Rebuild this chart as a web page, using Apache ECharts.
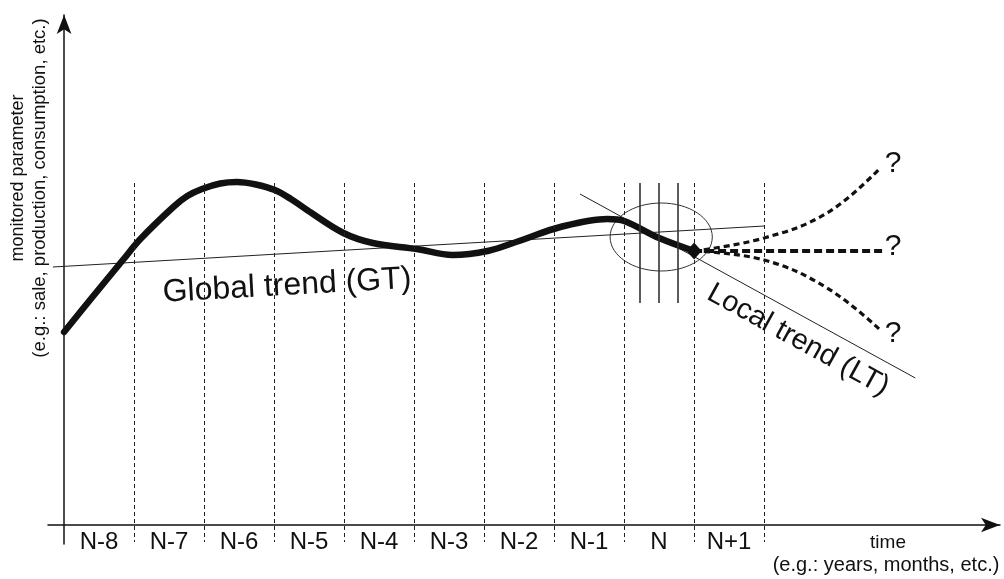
<!DOCTYPE html>
<html>
<head>
<meta charset="utf-8">
<script src="https://cdn.jsdelivr.net/npm/echarts@6/dist/echarts.min.js"></script>
<style>
html,body{margin:0;padding:0;background:#fff;}
#chart{width:1004px;height:579px;}
</style>
</head>
<body>
<div id="chart"></div>
<script>
// ---- data ----
const categories = ['N-8','N-7','N-6','N-5','N-4','N-3','N-2','N-1','N','N+1'];
const boundaries = [1,2,3,4,5,6,7,8,9,10];
const dashTop = 34.2;
const dashBottom = -1.7;
const mainCurve = [[0,19.3],[0.37,22.5],[0.84,26.5],[1.09,28.6],[1.56,31.8],[1.76,32.9],[1.97,33.6],[2.23,34.15],[2.47,34.3],[2.74,34.05],[3.01,33.5],[3.24,32.6],[3.47,31.5],[3.99,29.2],[4.41,28.2],[5.04,27.6],[5.55,27.0],[6.05,27.4],[6.5,28.4],[7.09,29.8],[7.76,30.6],[8.0,30.4],[8.5,28.7],[9.0,27.4]];
const globalTrend = [[-0.16,25.8],[10.0,29.9]];
const localTrend = [[7.37,33.1],[12.16,14.7]];
const forecastUp = [[9.0,27.4],[10.0,28.7],[10.9,31.2],[11.63,35.5]];
const forecastFlat = [[9.0,27.4],[11.69,27.4]];
const forecastDown = [[9.0,27.4],[10.0,26.5],[10.9,23.7],[11.66,19.5]];
const nVerticals = [8.23,8.5,8.77];
const nVertTop = 34.2, nVertBottom = 22.2;
const ellipseCenter = [8.53,28.8];
const ellipseRadius = [0.73,3.4];

const FONT = '"Liberation Sans", Arial, sans-serif';
const INK = '#111';

const chart = echarts.init(document.getElementById('chart'), null, {renderer:'canvas'});
const option = {
  animation: false,
  backgroundColor: '#fff',
  grid: [
    {left:48, right:4, top:15, bottom:35},
    {left:64, width:700, top:15, bottom:54}
  ],
  xAxis: [
    {type:'value', gridIndex:0, min:-0.23, max:13.37,
     axisLine:{show:true, onZero:true, symbol:['none','arrow'], symbolSize:[11,19], lineStyle:{color:INK, width:1.5}},
     axisTick:{show:false}, axisLabel:{show:false}, splitLine:{show:false}},
    {type:'category', gridIndex:1, data:categories, boundaryGap:true,
     axisLine:{show:false}, axisTick:{show:false}, splitLine:{show:false},
     axisLabel:{show:true, interval:0, margin:5, fontSize:24, fontFamily:FONT, color:INK}}
  ],
  yAxis: [
    {type:'value', gridIndex:0, min:-1.9, max:51,
     axisLine:{show:true, onZero:true, symbol:['none','arrow'], symbolSize:[11,19], lineStyle:{color:INK, width:1.5}},
     axisTick:{show:false}, axisLabel:{show:false}, splitLine:{show:false}},
    {type:'value', gridIndex:1, show:false, min:0, max:1}
  ],
  series: [
    {type:'line', name:'GT', data:globalTrend, xAxisIndex:0, yAxisIndex:0, symbol:'none',
     lineStyle:{color:'#222', width:1},
     markLine:{silent:true, symbol:['none','none'], label:{show:false}, animation:false,
       lineStyle:{type:[4,3], color:'#222', width:1},
       emphasis:{disabled:true},
       data: boundaries.map(b => [{coord:[b, dashTop]},{coord:[b, dashBottom]}])}},
    {type:'line', name:'LT', data:localTrend, symbol:'none',
     lineStyle:{color:'#222', width:1},
     markLine:{silent:true, symbol:['none','none'], label:{show:false}, animation:false,
       lineStyle:{type:'solid', color:'#333', width:1.6},
       emphasis:{disabled:true},
       data: nVerticals.map(v => [{coord:[v, nVertTop]},{coord:[v, nVertBottom]}])}},
    {type:'custom', name:'ellipse', data:[ellipseCenter], silent:true,
     renderItem: function(params, api){
       const c = api.coord([api.value(0), api.value(1)]);
       const s = api.size([ellipseRadius[0], ellipseRadius[1]]);
       return {type:'ellipse', shape:{cx:c[0], cy:c[1], rx:s[0], ry:s[1]},
               style:{fill:'none', stroke:'#333', lineWidth:1}};
     }},
    {type:'line', name:'up', data:forecastUp, symbol:'none', smooth:0.4,
     lineStyle:{color:INK, width:3.2, type:[6,4]}},
    {type:'line', name:'flat', data:forecastFlat, symbol:'none',
     lineStyle:{color:INK, width:4, type:[8,4]}},
    {type:'line', name:'down', data:forecastDown, symbol:'none', smooth:0.4,
     lineStyle:{color:INK, width:3.2, type:[6,4]}},
    {type:'line', name:'main', data:mainCurve, smooth:0.35,
     symbol:'none', lineStyle:{color:INK, width:6.5, cap:'round', join:'round'},
     markPoint:{silent:true, symbol:'diamond', symbolSize:[15,17], itemStyle:{color:INK},
       label:{show:false}, animation:false,
       data:[{coord: mainCurve[mainCurve.length-1]}]}}
  ],
  graphic: [
    {type:'text', x:18, y:178, rotation:Math.PI/2,
     style:{text:'monitored parameter', fontSize:18, fontFamily:FONT, fill:INK, align:'center', verticalAlign:'middle'}},
    {type:'text', x:40, y:188, rotation:Math.PI/2,
     style:{text:'(e.g.: sale, production, consumption, etc.)', fontSize:18.5, fontFamily:FONT, fill:INK, align:'center', verticalAlign:'middle'}},
    {type:'text', x:888, y:543,
     style:{text:'time', fontSize:19, fontFamily:FONT, fill:INK, align:'center', verticalAlign:'middle'}},
    {type:'text', x:886, y:565,
     style:{text:'(e.g.: years, months, etc.)', fontSize:20, fontFamily:FONT, fill:INK, align:'center', verticalAlign:'middle'}},
    {type:'text', x:287, y:286, rotation:0.056,
     style:{text:'Global trend (GT)', fontSize:32, fontFamily:FONT, fill:INK, align:'center', verticalAlign:'middle'}},
    {type:'text', x:798, y:340, rotation:-0.503,
     style:{text:'Local trend (LT)', fontSize:29, fontFamily:FONT, fill:INK, align:'center', verticalAlign:'middle'}},
    {type:'text', x:893, y:164,
     style:{text:'?', fontSize:30, fontFamily:FONT, fill:INK, align:'center', verticalAlign:'middle'}},
    {type:'text', x:893, y:247,
     style:{text:'?', fontSize:30, fontFamily:FONT, fill:INK, align:'center', verticalAlign:'middle'}},
    {type:'text', x:893, y:334,
     style:{text:'?', fontSize:30, fontFamily:FONT, fill:INK, align:'center', verticalAlign:'middle'}}
  ]
};
chart.setOption(option);
</script>
</body>
</html>
